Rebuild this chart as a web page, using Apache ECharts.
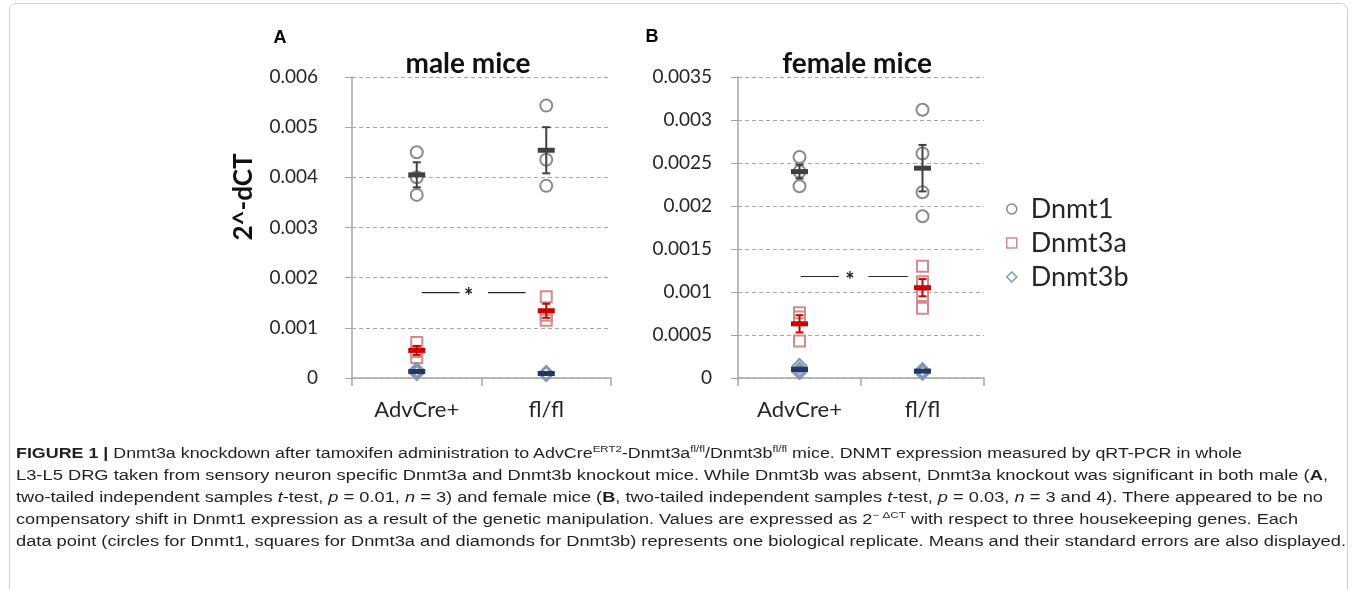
<!DOCTYPE html>
<html>
<head>
<meta charset="utf-8">
<script src="https://cdn.jsdelivr.net/npm/echarts@6/dist/echarts.min.js"></script>
<style>
html,body{margin:0;padding:0;background:#fff;width:1357px;height:589px;overflow:hidden;}
#frame{position:absolute;left:9px;top:3px;width:1339px;height:640px;border:1px solid #cfcfcf;border-radius:7px;box-sizing:border-box;}
#chart{position:absolute;left:0;top:0;width:1357px;height:589px;}
#caption{position:absolute;left:16px;top:442px;font-family:'Liberation Sans Narrow','Arial Narrow','Liberation Sans',Arial,sans-serif;font-size:14px;color:#231f20;line-height:22px;}
#caption .ln{white-space:nowrap;transform-origin:0 50%;display:block;width:max-content;}
#caption sup{font-size:9px;line-height:0;vertical-align:6px;}
</style>
</head>
<body>
<div id="frame"></div>
<div id="chart"></div>
<div id="caption">
<span class="ln" data-w="1226"><b>FIGURE 1 |</b> Dnmt3a knockdown after tamoxifen administration to AdvCre<sup>ERT2</sup>-Dnmt3a<sup>fl/fl</sup>/Dnmt3b<sup>fl/fl</sup> mice. DNMT expression measured by qRT-PCR in whole</span>
<span class="ln" data-w="1312">L3-L5 DRG taken from sensory neuron specific Dnmt3a and Dnmt3b knockout mice. While Dnmt3b was absent, Dnmt3a knockout was significant in both male (<b>A</b>,</span>
<span class="ln" data-w="1307">two-tailed independent samples <i>t</i>-test, <i>p</i> = 0.01, <i>n</i> = 3) and female mice (<b>B</b>, two-tailed independent samples <i>t</i>-test, <i>p</i> = 0.03, <i>n</i> = 3 and 4). There appeared to be no</span>
<span class="ln" data-w="1282">compensatory shift in Dnmt1 expression as a result of the genetic manipulation. Values are expressed as 2<sup>− ΔCT</sup> with respect to three housekeeping genes. Each</span>
<span class="ln" data-w="1330">data point (circles for Dnmt1, squares for Dnmt3a and diamonds for Dnmt3b) represents one biological replicate. Means and their standard errors are also displayed.</span>
</div>
<script>
// ---------------- data ----------------
var categories = ['AdvCre+', 'fl/fl'];
var seriesNames = ['Dnmt1', 'Dnmt3a', 'Dnmt3b'];

// male mice (panel A): replicate values per category
var maleDnmt1  = [[0.00450, 0.00400, 0.00365], [0.00543, 0.00435, 0.00383]];
var maleDnmt3a = [[0.00071, 0.00053, 0.00041], [0.00162, 0.00125, 0.00115]];
var maleDnmt3b = [[0.00016, 0.00013, 0.00010], [0.00010, 0.00009, 0.00008]];
var maleMeanDnmt1  = [0.00405, 0.00454];
var maleMeanDnmt3a = [0.00055, 0.00134];
var maleMeanDnmt3b = [0.00013, 0.00009];
var maleSeDnmt1  = [0.00025, 0.00046];
var maleSeDnmt3a = [0.00009, 0.00014];
var maleSeDnmt3b = [0.00002, 0.00001];

// female mice (panel B)
var femaleDnmt1  = [[0.00257, 0.00240, 0.00223], [0.00312, 0.00261, 0.00216, 0.00188]];
var femaleDnmt3a = [[0.00076, 0.00071, 0.00043], [0.00130, 0.00112, 0.00096, 0.00081]];
var femaleDnmt3b = [[0.00014, 0.00010, 0.00007], [0.00009, 0.00008, 0.00007, 0.00006]];
var femaleMeanDnmt1  = [0.00240, 0.00244];
var femaleMeanDnmt3a = [0.00063, 0.00105];
var femaleMeanDnmt3b = [0.00010, 0.00008];
var femaleSeDnmt1  = [0.00008, 0.00027];
var femaleSeDnmt3a = [0.00010, 0.00010];
var femaleSeDnmt3b = [0.00002, 0.00001];

// tick labels
var maleTicks   = ['0', '0.001', '0.002', '0.003', '0.004', '0.005', '0.006'];
var femaleTicks = ['0', '0.0005', '0.001', '0.0015', '0.002', '0.0025', '0.003', '0.0035'];

// significance bracket: [line1 start, line1 end, line2 start, line2 end, star x, y] (category-index units)
var maleSig   = [0.04, 0.33, 0.55, 0.84, 0.40, 0.0017];
var femaleSig = [0.01, 0.32, 0.56, 0.88, 0.41, 0.00118];

// ---------------- styles ----------------
var FONT = 'Lato';
var repStyle = {
  Dnmt1:  {symbol: 'circle',  size: 12, color: '#8a8a8a'},
  Dnmt3a: {symbol: 'rect',    size: 11, color: '#d68b8b'},
  Dnmt3b: {symbol: 'diamond', size: 14, color: '#8496b0'}
};
var meanColor = {Dnmt1: '#404040', Dnmt3a: '#cc0000', Dnmt3b: '#1f3864'};

function flatten(arr) {
  var out = [];
  arr.forEach(function (vals, ci) { vals.forEach(function (v) { out.push([ci, v]); }); });
  return out;
}
function meanPts(arr) { return arr.map(function (v, i) { return [i, v]; }); }
function errPts(m, s) { return m.map(function (v, i) { return [i, v - s[i], v + s[i]]; }); }

function errRender(color) {
  return function (params, api) {
    var x = api.value(0);
    var lo = api.coord([x, api.value(1)]);
    var hi = api.coord([x, api.value(2)]);
    var w = 4;
    var st = {stroke: color, lineWidth: 2};
    return {type: 'group', children: [
      {type: 'line', shape: {x1: lo[0], y1: lo[1], x2: hi[0], y2: hi[1]}, style: st},
      {type: 'line', shape: {x1: lo[0] - w, y1: lo[1], x2: lo[0] + w, y2: lo[1]}, style: st},
      {type: 'line', shape: {x1: hi[0] - w, y1: hi[1], x2: hi[0] + w, y2: hi[1]}, style: st}
    ]};
  };
}
function sigRender(params, api) {
  var y = api.value(5);
  var a1 = api.coord([api.value(0), y]), a2 = api.coord([api.value(1), y]);
  var b1 = api.coord([api.value(2), y]), b2 = api.coord([api.value(3), y]);
  var s = api.coord([api.value(4), y]);
  var st = {stroke: '#262626', lineWidth: 1.2};
  return {type: 'group', children: [
    {type: 'line', shape: {x1: a1[0], y1: a1[1], x2: a2[0], y2: a2[1]}, style: st},
    {type: 'line', shape: {x1: b1[0], y1: b1[1], x2: b2[0], y2: b2[1]}, style: st},
    {type: 'text', x: s[0], y: s[1] + 4, style: {text: '*', fill: '#1a1a1a', font: 'bold 22px ' + FONT, textAlign: 'center', textVerticalAlign: 'middle'}}
  ]};
}

var panels = [
  {reps: [maleDnmt1, maleDnmt3a, maleDnmt3b], means: [maleMeanDnmt1, maleMeanDnmt3a, maleMeanDnmt3b],
   ses: [maleSeDnmt1, maleSeDnmt3a, maleSeDnmt3b], sig: maleSig},
  {reps: [femaleDnmt1, femaleDnmt3a, femaleDnmt3b], means: [femaleMeanDnmt1, femaleMeanDnmt3a, femaleMeanDnmt3b],
   ses: [femaleSeDnmt1, femaleSeDnmt3a, femaleSeDnmt3b], sig: femaleSig}
];

var series = [];
panels.forEach(function (p, pi) {
  var xCat = pi * 2, xVal = pi * 2 + 1, yIdx = pi;
  seriesNames.forEach(function (name, si) {
    var rs = repStyle[name];
    series.push({
      name: name, type: 'scatter', xAxisIndex: xCat, yAxisIndex: yIdx, z: 2,
      symbol: rs.symbol, symbolSize: rs.size, data: flatten(p.reps[si]),
      itemStyle: {color: 'rgba(255,255,255,0)', borderColor: rs.color, borderWidth: 2, opacity: 1},
      emphasis: {disabled: true}, silent: true
    });
  });
  seriesNames.forEach(function (name, si) {
    series.push({
      name: name + ' mean', type: 'scatter', xAxisIndex: xCat, yAxisIndex: yIdx, z: 4,
      symbol: 'rect', symbolSize: [17, 5], data: meanPts(p.means[si]),
      itemStyle: {color: meanColor[name], opacity: 1}, silent: true
    });
    series.push({
      name: name + ' SE', type: 'custom', xAxisIndex: xCat, yAxisIndex: yIdx, z: 5,
      renderItem: errRender(meanColor[name]), encode: {x: 0, y: [1, 2]},
      data: errPts(p.means[si], p.ses[si]), silent: true
    });
  });
  series.push({
    name: 'sig', type: 'custom', xAxisIndex: xVal, yAxisIndex: yIdx, z: 6,
    renderItem: sigRender, encode: {x: [0, 1, 2, 3, 4], y: 5}, data: [p.sig], silent: true
  });
});

function catAxis(gi) {
  return {
    type: 'category', gridIndex: gi, data: categories, boundaryGap: true,
    axisLine: {show: true, onZero: false, lineStyle: {color: '#a6a6a6', width: 1.5}},
    axisTick: {show: true, length: 8, lineStyle: {color: '#a6a6a6', width: 1.5}},
    axisLabel: {color: '#262626', fontSize: 22, fontFamily: FONT, margin: 21},
    splitLine: {show: false}
  };
}
function valXAxis(gi) {
  return {type: 'value', gridIndex: gi, min: -0.5, max: 1.5, show: false, axisLine: {onZero: false}};
}
function yAxis(gi, max, interval, ticks, margin) {
  return {
    type: 'value', gridIndex: gi, min: 0, max: max, interval: interval,
    axisLine: {show: true, onZero: false, lineStyle: {color: '#a6a6a6', width: 1.5}},
    axisTick: {show: true, length: 7, lineStyle: {color: '#a6a6a6'}},
    axisLabel: {color: '#262626', fontSize: 19, fontFamily: FONT, margin: margin,
      formatter: function (v) { return ticks[Math.round(v / interval)]; }},
    splitLine: {show: true, lineStyle: {color: '#a6a6a6', type: [4, 3], width: 1}}
  };
}

var chart = echarts.init(document.getElementById('chart'), null, {renderer: 'canvas'});
chart.setOption({
  animation: false,
  backgroundColor: 'transparent',
  textStyle: {fontFamily: FONT},
  grid: [
    {left: 352, top: 77, width: 259, height: 301},
    {left: 738, top: 77, width: 246, height: 301}
  ],
  xAxis: [catAxis(0), valXAxis(0), catAxis(1), valXAxis(1)],
  yAxis: [yAxis(0, 0.006, 0.001, maleTicks, 34), yAxis(1, 0.0035, 0.0005, femaleTicks, 26)],
  legend: {
    orient: 'vertical', left: 1001, top: 189, itemGap: 4, itemWidth: 10, itemHeight: 10,
    selectedMode: false,
    textStyle: {fontSize: 27, fontFamily: FONT, color: '#262626', lineHeight: 30, padding: [0, 0, 0, 9]},
    data: seriesNames.map(function (n) {
      var rs = repStyle[n];
      return {name: n, icon: rs.symbol, itemStyle: {color: 'rgba(255,255,255,0)', borderColor: rs.color, borderWidth: 1.5}};
    })
  },
  graphic: [
    {type: 'text', x: 280, y: 38, style: {text: 'A', font: 'bold 18px "Liberation Sans", Arial', fill: '#000', textAlign: 'center', textVerticalAlign: 'middle'}},
    {type: 'text', x: 652, y: 37, style: {text: 'B', font: 'bold 18px "Liberation Sans", Arial', fill: '#000', textAlign: 'center', textVerticalAlign: 'middle'}},
    {type: 'text', x: 468, y: 64, style: {text: 'male mice', font: 'bold 28px ' + FONT, fill: '#111', textAlign: 'center', textVerticalAlign: 'middle'}},
    {type: 'text', x: 857, y: 64, style: {text: 'female mice', font: 'bold 28px ' + FONT, fill: '#111', textAlign: 'center', textVerticalAlign: 'middle'}},
    {type: 'text', x: 244, y: 197, rotation: Math.PI / 2, style: {text: '2^-dCT', font: 'bold 26px ' + FONT, fill: '#111', textAlign: 'center', textVerticalAlign: 'middle'}}
  ],
  series: series
});

function fitCaption() {
  var lines = document.querySelectorAll('#caption .ln');
  lines.forEach(function (el) {
    el.style.transform = 'none';
    var w = el.getBoundingClientRect().width;
    var target = parseFloat(el.getAttribute('data-w'));
    if (w > 0) el.style.transform = 'scaleX(' + (target / w) + ')';
  });
}
if (document.fonts && document.fonts.ready) { document.fonts.ready.then(fitCaption); }
fitCaption();
</script>
</body>
</html>
